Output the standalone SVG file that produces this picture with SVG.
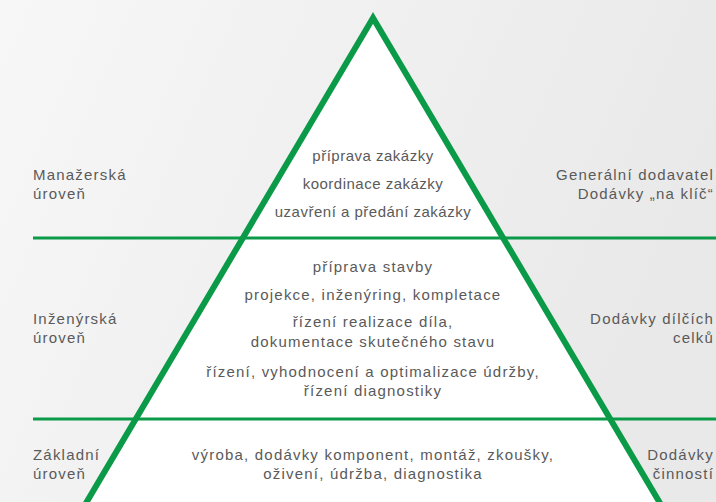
<svg xmlns="http://www.w3.org/2000/svg" width="716" height="502" viewBox="0 0 716 502">
<defs>
<linearGradient id="bg" x1="0" y1="0" x2="1" y2="0.3">
<stop offset="0" stop-color="#f7f7f7"/>
<stop offset="1" stop-color="#e9e9e9"/>
</linearGradient>
<style>
.t{font-family:"Liberation Sans",Arial,sans-serif;font-size:15px;fill:#5a5a5a;letter-spacing:1.2px}
.n{letter-spacing:0.5px}
.c{text-anchor:middle}
.r{text-anchor:end}
.ln{stroke:#0a9a48;stroke-width:3;fill:none}
.tri{stroke:#0a9a48;stroke-width:6;fill:#ffffff;stroke-linejoin:miter;stroke-miterlimit:10}
</style>
</defs>
<rect width="716" height="502" fill="url(#bg)"/>
<g id="pyramid">
<polygon class="tri" points="373,18 76,520 670,520"/>
</g>
<g id="connectors">
<line class="ln" x1="33" y1="238" x2="716" y2="238"/>
<line class="ln" x1="33" y1="419" x2="716" y2="419"/>
</g>
<g id="level-management">
<text class="t" x="33" y="180">Manažerská</text>
<text class="t" x="33" y="199">úroveň</text>
<text class="t c n" x="373" y="161">příprava zakázky</text>
<text class="t c n" x="373" y="189">koordinace zakázky</text>
<text class="t c n" x="373" y="217">uzavření a předání zakázky</text>
<text class="t r" x="714" y="180">Generální dodavatel</text>
<text class="t r" x="714" y="199">Dodávky „na klíč“</text>
</g>
<g id="level-engineering">
<text class="t" x="33" y="324">Inženýrská</text>
<text class="t" x="33" y="343">úroveň</text>
<text class="t c" x="373" y="272">příprava stavby</text>
<text class="t c" x="373" y="300">projekce, inženýring, kompletace</text>
<text class="t c" x="373" y="327">řízení realizace díla,</text>
<text class="t c" x="373" y="347">dokumentace skutečného stavu</text>
<text class="t c" x="373" y="377">řízení, vyhodnocení a optimalizace údržby,</text>
<text class="t c" x="373" y="396">řízení diagnostiky</text>
<text class="t r" x="714" y="324">Dodávky dílčích</text>
<text class="t r" x="714" y="343">celků</text>
</g>
<g id="level-basic">
<text class="t" x="33" y="460">Základní</text>
<text class="t" x="33" y="479">úroveň</text>
<text class="t c" x="373" y="460">výroba, dodávky komponent, montáž, zkoušky,</text>
<text class="t c" x="373" y="479">oživení, údržba, diagnostika</text>
<text class="t r" x="714" y="460">Dodávky</text>
<text class="t r" x="714" y="479">činností</text>
</g>
</svg>
